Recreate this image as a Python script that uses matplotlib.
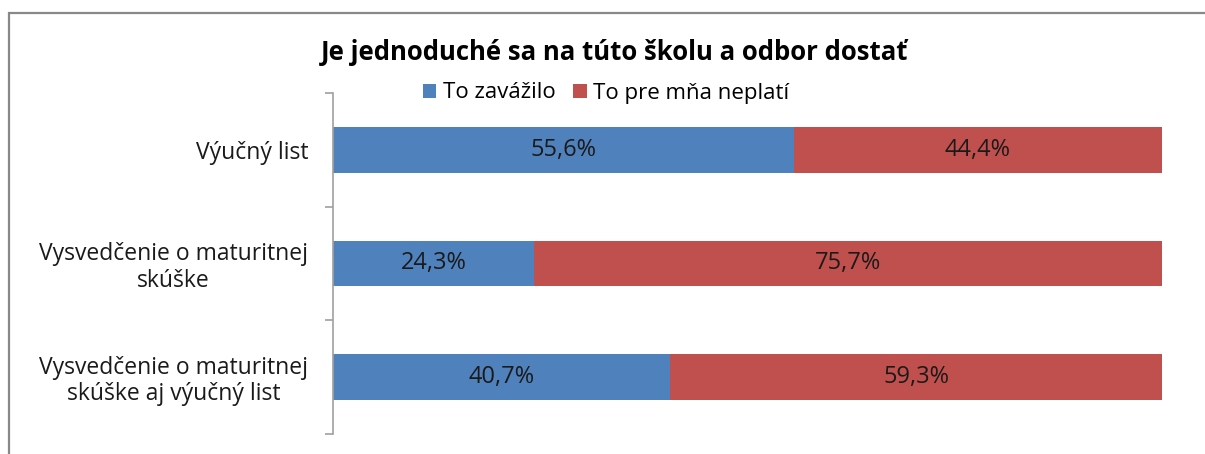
import matplotlib.pyplot as plt
from matplotlib.patches import Rectangle

plt.rcParams['font.family'] = ['Open Sans', 'DejaVu Sans']

kategorie = ['Výučný list',
             'Vysvedčenie o maturitnej\nskúške',
             'Vysvedčenie o maturitnej\nskúške aj výučný list']
zavazilo = [55.6, 24.3, 40.7]
neplati = [44.4, 75.7, 59.3]
serie = ['To zavážilo', 'To pre mňa neplatí']
farby = ['#4F81BD', '#C0504D']

fig = plt.figure(figsize=(12.05, 4.54), dpi=100)

# ram okolo grafu
fig.patches.append(Rectangle((9 / 1205, -0.1), 1.1, 1 - 13 / 454 + 0.1,
                             transform=fig.transFigure, fill=False,
                             edgecolor='#888888', linewidth=1.6))

ax = fig.add_axes([333 / 1205, 1 - 434 / 454, (1162 - 333) / 1205, (434 - 93) / 454])

pozicie = list(range(len(kategorie)))
ax.barh(pozicie, zavazilo, height=0.4, color=farby[0], label=serie[0])
ax.barh(pozicie, neplati, left=zavazilo, height=0.4, color=farby[1], label=serie[1])

for i in pozicie:
    ax.text(zavazilo[i] / 2, i, f'{zavazilo[i]:.1f}%'.replace('.', ','),
            ha='center', va='center', fontsize=17, color='#1a1a1a')
    ax.text(zavazilo[i] + neplati[i] / 2, i, f'{neplati[i]:.1f}%'.replace('.', ','),
            ha='center', va='center', fontsize=17, color='#1a1a1a')

ax.set_xlim(0, 100)
ax.set_ylim(2.5, -0.5)
ax.set_xticks([])
ax.set_yticks(pozicie)
ax.set_yticklabels(kategorie, fontsize=16.5, color='#1a1a1a', linespacing=1.12)
ax.set_yticks([-0.5, 0.5, 1.5, 2.5], minor=True)
ax.tick_params(axis='y', which='major', length=0, pad=18)
ax.tick_params(axis='y', which='minor', length=6, color='#a0a0a0', width=1.2)
plt.setp(ax.get_yticklabels(), multialignment='center')

for s in ['top', 'right', 'bottom']:
    ax.spines[s].set_visible(False)
ax.spines['left'].set_color('#a0a0a0')
ax.spines['left'].set_linewidth(1.2)

fig.text(615 / 1205, 1 - 52 / 454, 'Je jednoduché sa na túto školu a odbor dostať',
         ha='center', va='center', fontsize=18.5, fontweight='bold')

fig.legend(loc='center', bbox_to_anchor=(606 / 1205, 1 - 93 / 454), ncol=2,
           frameon=False, fontsize=16, handlelength=0.6, handleheight=0.6,
           handletextpad=0.3, columnspacing=0.8, borderpad=0)

plt.savefig('out.png', dpi=100)
